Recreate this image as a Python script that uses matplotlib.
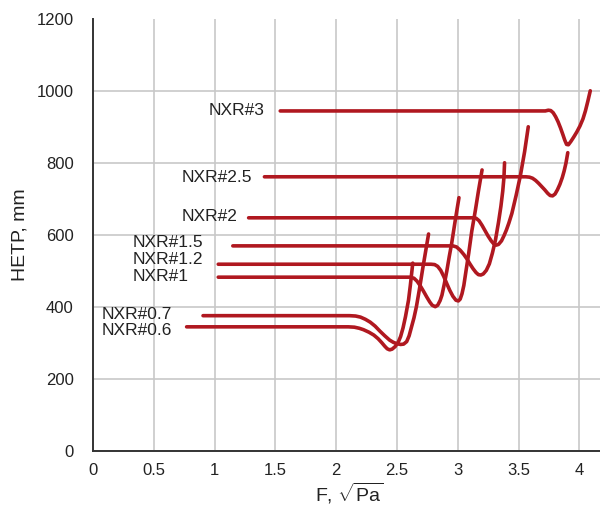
import matplotlib
matplotlib.use("Agg")
import matplotlib.pyplot as plt

plt.rcParams['font.family'] = ['Liberation Sans', 'DejaVu Sans']
plt.rcParams['mathtext.fontset'] = 'custom'
plt.rcParams['mathtext.rm'] = 'Liberation Sans'
plt.rcParams['mathtext.it'] = 'Liberation Sans'

# ---- data ----
names = ["NXR#0.6", "NXR#0.7", "NXR#1", "NXR#1.2", "NXR#1.5", "NXR#2", "NXR#2.5", "NXR#3"]

x_06 = [0.77, 2.10, 2.15, 2.19, 2.225, 2.27, 2.31, 2.345, 2.375, 2.40, 2.42, 2.44, 2.46, 2.485,
        2.51, 2.53, 2.55, 2.57, 2.595, 2.61, 2.63]
y_06 = [345, 345, 344, 341, 337, 330, 322, 312, 301, 291, 284, 281, 283, 290,
        302, 318, 342, 373, 419, 460, 522]

x_07 = [0.905, 2.11, 2.16, 2.20, 2.24, 2.28, 2.32, 2.36, 2.40, 2.44, 2.47, 2.50, 2.53, 2.555,
        2.58, 2.60, 2.62, 2.64, 2.66, 2.685, 2.71, 2.735, 2.76]
y_07 = [376, 376, 375, 372, 366, 358, 347, 333, 320, 308, 302, 298, 296, 297,
        304, 320, 345, 370, 401, 450, 503, 553, 603]

x_1 = [1.03, 2.61, 2.64, 2.665, 2.69, 2.72, 2.745, 2.77, 2.79, 2.815, 2.835, 2.855, 2.87,
       2.89, 2.91, 2.93, 2.95, 2.98, 3.01]
y_1 = [483, 483, 480, 472, 460, 443, 428, 414, 405, 401, 405, 418, 433,
       465, 500, 540, 577, 642, 704]

x_12 = [1.03, 2.78, 2.81, 2.835, 2.86, 2.885, 2.91, 2.935, 2.96, 2.985, 3.005, 3.02, 3.035,
        3.05, 3.07, 3.09, 3.115, 3.145, 3.17, 3.20]
y_12 = [519, 519, 518, 513, 502, 485, 465, 446, 430, 419, 417, 422, 437,
        460, 505, 549, 610, 669, 722, 781]

x_15 = [1.15, 2.96, 2.99, 3.02, 3.05, 3.075, 3.10, 3.125, 3.15, 3.17, 3.19, 3.21, 3.235,
        3.26, 3.285, 3.31, 3.335, 3.355, 3.37, 3.38, 3.385]
y_15 = [570, 570, 567, 558, 546, 534, 520, 507, 496, 490, 489, 492, 502,
        520, 550, 586, 635, 680, 722, 760, 801]

x_2 = [1.28, 3.12, 3.15, 3.175, 3.20, 3.225, 3.25, 3.275, 3.295, 3.315, 3.335, 3.36, 3.38,
       3.40, 3.42, 3.445, 3.48, 3.515, 3.55, 3.58]
y_2 = [648, 648, 647, 640, 627, 612, 597, 584, 576, 572, 574, 584, 598,
       614, 633, 660, 710, 765, 832, 901]

x_25 = [1.41, 3.56, 3.59, 3.615, 3.64, 3.665, 3.69, 3.715, 3.74, 3.76, 3.78, 3.80, 3.82,
        3.84, 3.86, 3.875, 3.89, 3.905]
y_25 = [762, 762, 761, 758, 752, 744, 735, 726, 716, 710, 709, 714, 726,
        741, 760, 778, 800, 829]

x_3 = [1.54, 3.72, 3.745, 3.765, 3.785, 3.805, 3.825, 3.845, 3.865, 3.88, 3.895, 3.91,
       3.93, 3.955, 3.98, 4.005, 4.03, 4.05, 4.07, 4.09]
y_3 = [945, 945, 947, 946, 940, 929, 915, 898, 879, 864, 852, 851,
       860, 873, 887, 903, 923, 945, 972, 1001]

series_x = [x_06, x_07, x_1, x_12, x_15, x_2, x_25, x_3]
series_y = [y_06, y_07, y_1, y_12, y_15, y_2, y_25, y_3]

# label anchors (left edge of text, vertical centre)
label_x = [0.074, 0.074, 0.33, 0.33, 0.33, 0.73, 0.73, 0.955]
label_y = [336, 378, 486, 532, 578, 653, 761, 947]

x_ticks = [0, 0.5, 1, 1.5, 2, 2.5, 3, 3.5, 4]
x_ticklabels = ["0", "0.5", "1", "1.5", "2", "2.5", "3", "3.5", "4"]
y_ticks = [0, 200, 400, 600, 800, 1000, 1200]

# ---- figure ----
fig = plt.figure(figsize=(6.0, 5.05), dpi=100)
ax = fig.add_axes([0.155, 0.107, 0.845, 0.855])

red = '#b01820'
for xs, ys in zip(series_x, series_y):
    ax.plot(xs, ys, color=red, lw=2.6, solid_capstyle='round', solid_joinstyle='round', zorder=3)

for name, lx, ly in zip(names, label_x, label_y):
    ax.text(lx, ly, name, ha='left', va='center', fontsize=12.5, color='#222222')

ax.set_xlim(0, 4.17)
ax.set_ylim(0, 1200)
ax.set_xticks(x_ticks)
ax.set_xticklabels(x_ticklabels)
ax.set_yticks(y_ticks)

ax.grid(True, color='#c8c8c8', lw=1.2, zorder=0)
ax.set_axisbelow(True)
ygl = ax.yaxis.get_gridlines()
ygl[-1].set_visible(False)

for s in ['top', 'right']:
    ax.spines[s].set_visible(False)
for s in ['left', 'bottom']:
    ax.spines[s].set_color('#333333')
    ax.spines[s].set_linewidth(1.4)

ax.tick_params(axis='both', length=0, labelsize=12, labelcolor='#222222')
ax.tick_params(axis='y', pad=14)
ax.tick_params(axis='x', pad=9)

ax.set_ylabel("HETP, mm", fontsize=14, color='#222222', labelpad=6)
ax.set_xlabel(r"F, $\sqrt{\mathrm{Pa}}$", fontsize=14, color='#222222')
ax.xaxis.set_label_coords(0.505, -0.07)

fig.savefig("out.png", dpi=100)
